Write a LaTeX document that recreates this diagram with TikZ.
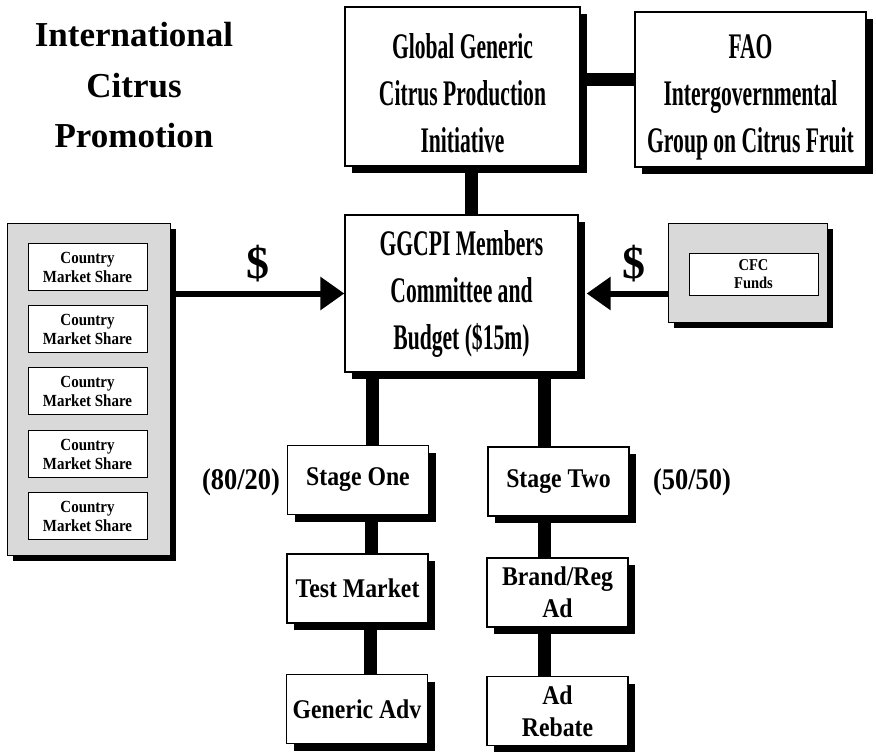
\documentclass[tikz,border=0pt]{standalone}
\usepackage{fontspec}
\setmainfont{Liberation Serif}
\newfontfamily\bigcond[FakeStretch=0.6]{Liberation Serif}
\newfontfamily\smcond[FakeStretch=0.88]{Liberation Serif}
\usetikzlibrary{arrows.meta,shadows,backgrounds,calc}
\tikzset{
  shad/.style={drop shadow={shadow xshift=7pt, shadow yshift=-7pt, opacity=1, fill=black}},
  bigbox/.style={draw=black, line width=1.3pt, fill=white, align=center, inner sep=0pt, shad,
    font=\bigcond\bfseries\fontsize{36}{47}\selectfont},
  smbox/.style={draw=black, line width=1.3pt, fill=white, align=center, inner sep=0pt, shad,
    minimum width=141pt, minimum height=69pt,
    font=\smcond\bfseries\fontsize{27}{32}\selectfont},
  panel/.style={draw=black, line width=1pt, fill=black!15, inner sep=0pt,
    drop shadow={shadow xshift=6pt, shadow yshift=-6pt, opacity=1, fill=black}},
  cbox/.style={draw=black, line width=1pt, fill=white, align=center, inner sep=0pt,
    minimum width=119pt, minimum height=47pt,
    font=\smcond\bfseries\fontsize{17}{19}\selectfont},
  bar/.style={line width=13pt, line cap=butt},
  arr/.style={line width=6pt, -{Triangle[length=24pt,width=32pt]}},
  dollar/.style={font=\bfseries\fontsize{46}{46}\selectfont},
  ratio/.style={font=\smcond\bfseries\fontsize{30}{30}\selectfont},
  ttl/.style={anchor=base, font=\bfseries\fontsize{35}{35}\selectfont},
}
\begin{document}
\begin{tikzpicture}[x=1pt,y=-1pt]
\useasboundingbox (0,0) rectangle (876,752);
% title
\node[ttl] (t1) at (134,47) {International};
\node[ttl] (t2) at (134,97) {Citrus};
\node[ttl] (t3) at (134,147) {Promotion};
% top boxes
\node[bigbox, minimum width=235pt, minimum height=159pt] (global) at (462.5,86.5)
  {\\[-8pt]Global Generic\\Citrus Production\\Initiative};
\node[bigbox, minimum width=231pt, minimum height=155pt] (fao) at (750.5,89.5)
  {\\[-8pt]FAO\\Intergovernmental\\Group on Citrus Fruit};
\node[bigbox, minimum width=233pt, minimum height=157pt] (ggcpi) at (461.5,293.5)
  {GGCPI Members\\Committee and\\Budget (\$15m)};
% left panel
\node[panel, minimum width=163pt, minimum height=332pt] (left) at (88.5,389) {};
\node[cbox] (c1) at (87.5,267) {Country\\Market Share};
\node[cbox] (c2) at (87.5,329) {Country\\Market Share};
\node[cbox] (c3) at (87.5,391) {Country\\Market Share};
\node[cbox] (c4) at (87.5,454) {Country\\Market Share};
\node[cbox] (c5) at (87.5,516) {Country\\Market Share};
% CFC panel
\node[panel, minimum width=159pt, minimum height=99pt] (cfcp) at (747.5,272.5) {};
\node[cbox, minimum width=129pt, minimum height=42pt,
  font=\smcond\bfseries\fontsize{16.5}{18}\selectfont] (cfc) at (753.5,274) {CFC\\Funds};
% dollar signs
\node[dollar] (d1) at (258,264) {\$};
\node[dollar] (d2) at (634,264) {\$};
% stage boxes
\node[smbox] (s1) at (358,480) {Stage One};
\node[smbox] (s2) at (558.5,481.5) {Stage Two};
\node[smbox] (tm) at (357.5,588.5) {Test Market};
\node[smbox] (br) at (557.5,592.5) {Brand/Reg\\Ad};
\node[smbox] (ga) at (357,709) {Generic Adv};
\node[smbox] (ar) at (557.5,711) {Ad\\Rebate};
% ratios
\node[ratio] (r1) at (241,482) {(80/20)};
\node[ratio] (r2) at (692,482) {(50/50)};
% connectors
\begin{scope}[on background layer]
\draw[bar] ([yshift=6.5pt]global.east) -- ([yshift=6.5pt]global.east -| fao.west);
\draw[bar] ([xshift=8.5pt]global.south) -- ([xshift=8.5pt]global.south |- ggcpi.north);
\draw[bar] ([xshift=14pt]s1.north) -- ([xshift=14pt]s1.north |- ggcpi.south);
\draw[bar] ([xshift=-14.5pt]s2.north) -- ([xshift=-14.5pt]s2.north |- ggcpi.south);
\draw[bar] ([xshift=13.5pt]tm.north) -- ([xshift=13.5pt]tm.north |- s1.south);
\draw[bar] ([xshift=13.5pt]ga.north) -- ([xshift=13.5pt]ga.north |- tm.south);
\draw[bar] ([xshift=-13.5pt]br.north) -- ([xshift=-13.5pt]br.north |- s2.south);
\draw[bar] ([xshift=-13.5pt]ar.north) -- ([xshift=-13.5pt]ar.north |- br.south);
\end{scope}
\draw[arr] (left.east |- ggcpi.west) -- (ggcpi.west);
\draw[arr] (cfcp.west |- ggcpi.east) -- ([xshift=8pt]ggcpi.east);
\end{tikzpicture}
\end{document}
